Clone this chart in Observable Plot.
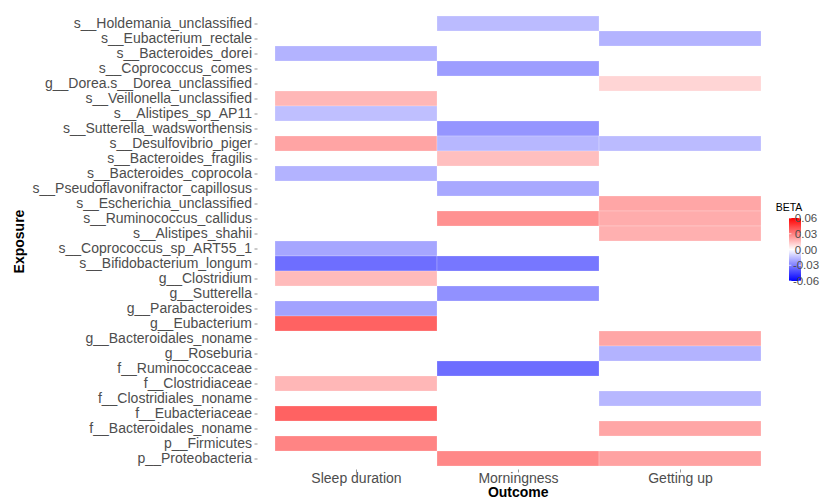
<!DOCTYPE html>
<html>
<head>
<meta charset="utf-8">
<script src="https://cdn.jsdelivr.net/npm/d3@7"></script>
<script src="https://cdn.jsdelivr.net/npm/@observablehq/plot@0.6"></script>
<style>
  html, body { margin: 0; padding: 0; background: #fff; }
  #chart { width: 832px; height: 498px; }
</style>
</head>
<body>
<div id="chart"></div>
<script>
const exposures = [
  "s__Holdemania_unclassified",
  "s__Eubacterium_rectale",
  "s__Bacteroides_dorei",
  "s__Coprococcus_comes",
  "g__Dorea.s__Dorea_unclassified",
  "s__Veillonella_unclassified",
  "s__Alistipes_sp_AP11",
  "s__Sutterella_wadsworthensis",
  "s__Desulfovibrio_piger",
  "s__Bacteroides_fragilis",
  "s__Bacteroides_coprocola",
  "s__Pseudoflavonifractor_capillosus",
  "s__Escherichia_unclassified",
  "s__Ruminococcus_callidus",
  "s__Alistipes_shahii",
  "s__Coprococcus_sp_ART55_1",
  "s__Bifidobacterium_longum",
  "g__Clostridium",
  "g__Sutterella",
  "g__Parabacteroides",
  "g__Eubacterium",
  "g__Bacteroidales_noname",
  "g__Roseburia",
  "f__Ruminococcaceae",
  "f__Clostridiaceae",
  "f__Clostridiales_noname",
  "f__Eubacteriaceae",
  "f__Bacteroidales_noname",
  "p__Firmicutes",
  "p__Proteobacteria"
];

const outcomes = ["Sleep duration", "Morningness", "Getting up"];

// BETA per exposure (same order as exposures); null = not shown
const sleepDurationBeta = [
  null, null, -0.018, null, null, 0.017, -0.015, null, 0.0215, null,
  -0.018, null, null, null, null, -0.021, -0.034, 0.016, null, -0.022,
  0.037, null, null, null, 0.017, null, 0.037, null, 0.029, null
];
const morningnessBeta = [
  -0.016, null, null, -0.023, null, null, null, -0.025, -0.017, 0.015,
  null, -0.0205, null, 0.026, null, null, -0.032, null, -0.026, null,
  null, null, null, -0.034, null, null, null, null, null, 0.028
];
const gettingUpBeta = [
  null, -0.018, null, null, 0.010, null, null, null, -0.016, null,
  null, null, 0.021, 0.0195, 0.0185, null, null, null, null, null,
  null, 0.021, -0.018, null, null, -0.017, null, 0.021, null, 0.022
];

const legendTicks = [0.06, 0.03, 0.00, -0.03, -0.06];
const betaLimits = [-0.06, 0.06];

const series = [sleepDurationBeta, morningnessBeta, gettingUpBeta];
const cells = [];
outcomes.forEach((o, j) => {
  series[j].forEach((b, i) => {
    if (b !== null) cells.push({exposure: exposures[i], outcome: o, beta: b});
  });
});

const FONT = "'Liberation Sans', Arial, Helvetica, sans-serif";

const chart = Plot.plot({
  width: 832,
  height: 498,
  marginLeft: 257.5,
  marginRight: 54,
  marginTop: 12.5,
  marginBottom: 28.5,
  style: {fontFamily: FONT, background: "#fff"},
  x: {domain: outcomes, paddingInner: 0, paddingOuter: 0.1, label: null},
  y: {domain: exposures, paddingInner: 0, paddingOuter: 0.1, label: null},
  color: {
    type: "linear",
    domain: [betaLimits[0], 0, betaLimits[1]],
    range: ["blue", "white", "red"],
    interpolate: "rgb",
    clamp: true
  },
  marks: [
    Plot.cell(cells, {
      x: "outcome", y: "exposure", fill: "beta",
      inset: 0, stroke: "white", strokeWidth: 0.4, strokeOpacity: 0.5
    }),
    Plot.axisY({tickSize: 3, tickPadding: 3, fontSize: 14, color: "#4d4d4d", strokeWidth: 0.6, label: null}),
    Plot.axisX({tickSize: 3, tickPadding: 0.5, fontSize: 14, color: "#4d4d4d", strokeWidth: 0.6, label: null}),
    Plot.text(["Outcome"], {
      text: d => d, frameAnchor: "bottom", dy: 26.5, lineAnchor: "bottom",
      textAnchor: "middle", fontSize: 14, fontWeight: "bold", fill: "#000"
    }),
    Plot.text(["Exposure"], {
      text: d => d, frameAnchor: "left", dx: -238, rotate: -90,
      textAnchor: "middle", lineAnchor: "middle", fontSize: 14, fontWeight: "bold", fill: "#000"
    })
  ]
});

document.getElementById("chart").appendChild(chart);

// Colour bar legend built from the plot's own colour scale
const colorScale = chart.scale("color");
const svg = d3.select(chart);
const barX = 789, barY = 218, barW = 12, barH = 63;
const grad = svg.append("defs").append("linearGradient")
  .attr("id", "betaGrad").attr("x1", 0).attr("y1", 0).attr("x2", 0).attr("y2", 1);
const nStops = 40;
for (let i = 0; i <= nStops; i++) {
  const v = betaLimits[1] - (betaLimits[1] - betaLimits[0]) * i / nStops;
  grad.append("stop").attr("offset", (i / nStops * 100) + "%").attr("stop-color", colorScale.apply(v));
}
const leg = svg.append("g").attr("font-family", FONT);
leg.append("text").attr("x", barX).attr("y", 211).attr("font-size", 10.5).attr("fill", "#000").text("BETA");
leg.append("rect").attr("x", barX).attr("y", barY).attr("width", barW).attr("height", barH).attr("fill", "url(#betaGrad)");
const yOf = v => barY + (betaLimits[1] - v) / (betaLimits[1] - betaLimits[0]) * barH;
legendTicks.forEach(v => {
  const y = yOf(v);
  leg.append("line").attr("x1", barX).attr("x2", barX + 2.4).attr("y1", y).attr("y2", y).attr("stroke", "white").attr("stroke-width", 0.7);
  leg.append("line").attr("x1", barX + barW - 2.4).attr("x2", barX + barW).attr("y1", y).attr("y2", y).attr("stroke", "white").attr("stroke-width", 0.7);
  leg.append("text").attr("x", barX + barW + 5).attr("y", y).attr("dy", "0.35em")
    .attr("font-size", 11.5).attr("fill", "#4d4d4d").text(v.toFixed(2));
});
</script>
</body>
</html>
